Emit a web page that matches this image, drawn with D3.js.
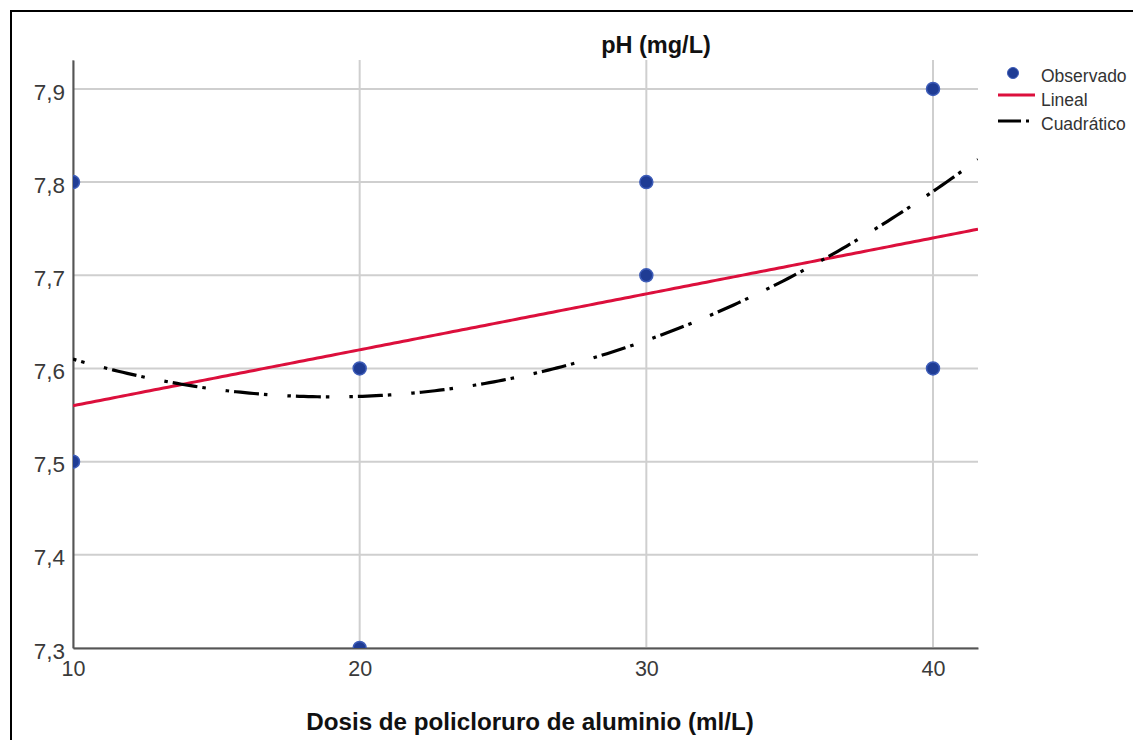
<!DOCTYPE html>
<html>
<head>
<meta charset="utf-8">
<script src="https://cdn.jsdelivr.net/npm/d3@7"></script>
<style>
  html, body { margin: 0; padding: 0; background: #fff; }
  svg { display: block; }
</style>
</head>
<body>
<svg id="chart" width="1133" height="740"></svg>
<script>
// ---- data ----
const dosis = [10, 10, 20, 20, 30, 30, 40, 40];
const ph = [7.8, 7.5, 7.6, 7.3, 7.8, 7.7, 7.9, 7.6];
const xTicks = [10, 20, 30, 40];
const yTicks = [7.3, 7.4, 7.5, 7.6, 7.7, 7.8, 7.9];
const xDomain = [10, 41.57];
const yDomain = [7.3, 7.931];
const legendLabels = ["Observado", "Lineal", "Cuadrático"];
const chartTitle = "pH (mg/L)";
const xTitle = "Dosis de policloruro de aluminio (ml/L)";

// ---- least-squares fits from observed data ----
function solve(A, b) {
  const n = b.length;
  const M = A.map((r, i) => r.concat([b[i]]));
  for (let c = 0; c < n; c++) {
    let p = c;
    for (let r = c + 1; r < n; r++) if (Math.abs(M[r][c]) > Math.abs(M[p][c])) p = r;
    [M[c], M[p]] = [M[p], M[c]];
    for (let r = 0; r < n; r++) {
      if (r === c) continue;
      const f = M[r][c] / M[c][c];
      for (let k = c; k <= n; k++) M[r][k] -= f * M[c][k];
    }
  }
  return M.map((r, i) => r[n] / r[i]);
}
function polyFit(xs, ys, deg) {
  const m = deg + 1;
  const A = Array.from({length: m}, () => Array(m).fill(0));
  const b = Array(m).fill(0);
  xs.forEach((x, i) => {
    for (let r = 0; r < m; r++) {
      b[r] += ys[i] * Math.pow(x, r);
      for (let c = 0; c < m; c++) A[r][c] += Math.pow(x, r + c);
    }
  });
  return solve(A, b);
}
const linC = polyFit(dosis, ph, 1);
const quadC = polyFit(dosis, ph, 2);
const evalP = (c, x) => c.reduce((s, v, i) => s + v * Math.pow(x, i), 0);

// ---- layout ----
const svg = d3.select("#chart");
const L = 73, R = 978, T = 60, B = 648;
const x = d3.scaleLinear().domain(xDomain).range([L, R]);
const y = d3.scaleLinear().domain(yDomain).range([B, T]);
const ff = "Liberation Sans, Arial, sans-serif";

// outer frame
svg.append("rect").attr("x", 11).attr("y", 11).attr("width", 1200).attr("height", 800)
  .attr("fill", "none").attr("stroke", "#000").attr("stroke-width", 2);

svg.append("defs").append("clipPath").attr("id", "plotclip")
  .append("rect").attr("x", L).attr("y", T).attr("width", R - L).attr("height", B - T);

// grid
const grid = svg.append("g");
grid.selectAll("line.gx").data(xTicks).join("line")
  .attr("x1", d => x(d)).attr("x2", d => x(d)).attr("y1", T).attr("y2", B)
  .attr("stroke", "#cfcfcf").attr("stroke-width", 2);
grid.selectAll("line.gy").data(yTicks).join("line")
  .attr("x1", L).attr("x2", R).attr("y1", d => y(d)).attr("y2", d => y(d))
  .attr("stroke", "#cfcfcf").attr("stroke-width", 2);

// axes
const fmt = d => d3.format(".1f")(d).replace(".", ",");
const yAxis = svg.append("g").attr("transform", `translate(${L},0)`)
  .call(d3.axisLeft(y).tickValues(yTicks).tickSize(0).tickPadding(8).tickFormat(fmt));
yAxis.select(".domain").attr("stroke", "#555").attr("stroke-width", 2);
yAxis.selectAll("text").attr("font-family", ff)
  .attr("font-size", 22.5).attr("fill", "#3a3a3a").attr("dy", "0.45em");

const xAxis = svg.append("g").attr("transform", `translate(0,${B})`)
  .call(d3.axisBottom(x).tickValues(xTicks).tickSize(0).tickPadding(13).tickFormat(d3.format("d")));
xAxis.select(".domain").attr("stroke", "#555").attr("stroke-width", 2);
xAxis.selectAll("text").attr("font-family", ff)
  .attr("font-size", 21.5).attr("fill", "#3a3a3a");

// fit lines
const plot = svg.append("g").attr("clip-path", "url(#plotclip)");
const xs = d3.range(0, 201).map(i => xDomain[0] + (xDomain[1] - xDomain[0]) * i / 200);
const line = d3.line().x(d => x(d[0])).y(d => y(d[1]));
plot.append("path").datum(xs.map(v => [v, evalP(linC, v)])).attr("d", line)
  .attr("fill", "none").attr("stroke", "#dc0f3c").attr("stroke-width", 3);
plot.append("path").datum(xs.map(v => [v, evalP(quadC, v)])).attr("d", line)
  .attr("fill", "none").attr("stroke", "#000").attr("stroke-width", 3.2)
  .attr("stroke-dasharray", "3.5,5,25,5,3.5,20").attr("stroke-dashoffset", 30);

// points
plot.selectAll("circle").data(dosis.map((d, i) => [d, ph[i]])).join("circle")
  .attr("cx", d => x(d[0])).attr("cy", d => y(d[1])).attr("r", 6.5)
  .attr("fill", "#1f3c94").attr("stroke", "#3d5cb8").attr("stroke-width", 1.5);

// titles
svg.append("text").attr("x", 656).attr("y", 53).attr("text-anchor", "middle")
  .attr("font-family", ff).attr("font-weight", "bold")
  .attr("font-size", 23.5).attr("fill", "#111").text(chartTitle);
svg.append("text").attr("x", 530).attr("y", 730).attr("text-anchor", "middle")
  .attr("font-family", ff).attr("font-weight", "bold")
  .attr("font-size", 24.2).attr("fill", "#111").text(xTitle);

// legend
const lg = svg.append("g");
lg.append("circle").attr("cx", 1013).attr("cy", 73).attr("r", 5.5)
  .attr("fill", "#1f3c94").attr("stroke", "#3d5cb8").attr("stroke-width", 1);
lg.append("line").attr("x1", 998).attr("x2", 1035).attr("y1", 95).attr("y2", 95)
  .attr("stroke", "#dc0f3c").attr("stroke-width", 3);
lg.append("line").attr("x1", 998).attr("x2", 1030).attr("y1", 121).attr("y2", 121)
  .attr("stroke", "#000").attr("stroke-width", 3).attr("stroke-dasharray", "23,5,3,40");
const ly = [82, 106, 130];
legendLabels.forEach((t, i) => {
  lg.append("text").attr("x", 1041).attr("y", ly[i]).attr("font-family", ff)
    .attr("font-size", 17.5).attr("fill", "#333").text(t);
});
</script>
</body>
</html>
